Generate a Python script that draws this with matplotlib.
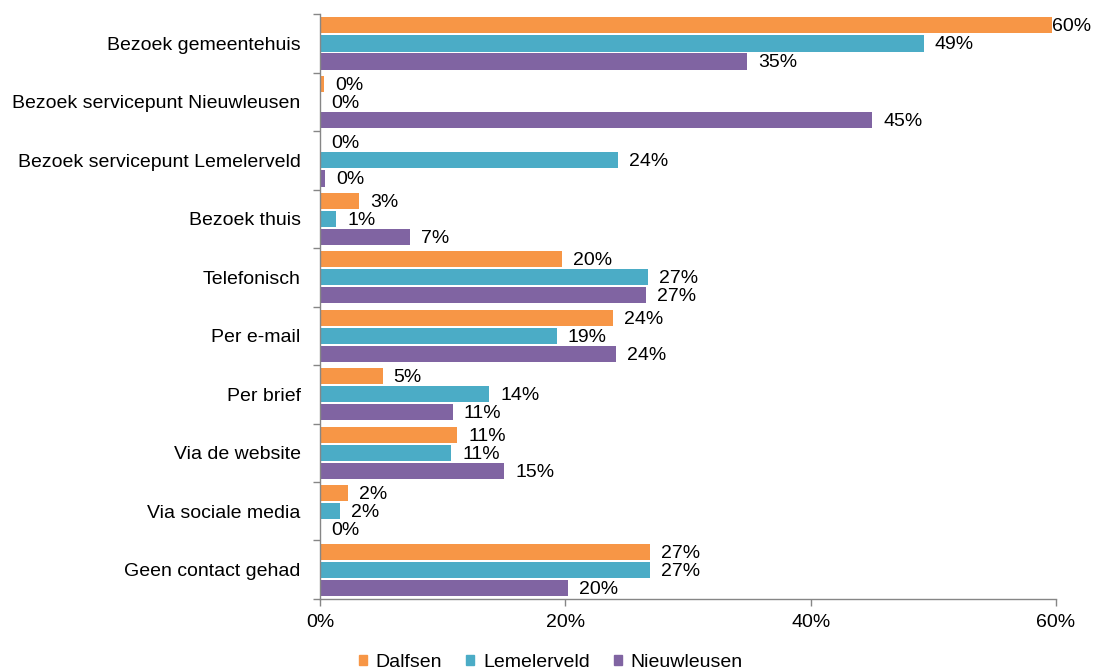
import numpy as np
import matplotlib.pyplot as plt
from matplotlib.patches import Patch

plt.rcParams['font.family'] = ['Liberation Sans', 'DejaVu Sans']

categories = ["Bezoek gemeentehuis", "Bezoek servicepunt Nieuwleusen",
              "Bezoek servicepunt Lemelerveld", "Bezoek thuis", "Telefonisch",
              "Per e-mail", "Per brief", "Via de website", "Via sociale media",
              "Geen contact gehad"]
series = ["Dalfsen", "Lemelerveld", "Nieuwleusen"]
dalfsen = [59.7, 0.3, 0.0, 3.2, 19.7, 23.9, 5.1, 11.2, 2.3, 26.9]
lemelerveld = [49.2, 0.0, 24.3, 1.3, 26.7, 19.3, 13.8, 10.7, 1.6, 26.9]
nieuwleusen = [34.8, 45.0, 0.4, 7.3, 26.6, 24.1, 10.8, 15.0, 0.0, 20.2]
colors = ["#F79646", "#4BACC6", "#8064A2"]

fig = plt.figure(figsize=(10.93, 6.70), dpi=100)
ax = fig.add_axes([0.2928, 0.106, 0.6734, 0.873])

y = np.arange(len(categories))
step = 0.308
for i, (vals, col) in enumerate(zip([dalfsen, lemelerveld, nieuwleusen], colors)):
    pos = y + (i - 1) * step
    bars = ax.barh(pos, vals, height=0.28, color=col)
    for b, v in zip(bars, vals):
        pad = 0 if v > 58 else 8
        ax.annotate(f"{round(v):.0f}%", (v, b.get_y() + b.get_height() / 2),
                    xytext=(pad, -1), textcoords="offset points",
                    ha="left", va="center", fontsize=14, clip_on=False)

ax.set_xlim(0, 60)
ax.set_ylim(len(categories) - 0.5, -0.5)
ax.set_xticks([0, 20, 40, 60])
ax.set_xticklabels(["0%", "20%", "40%", "60%"], fontsize=14)
ax.set_yticks(y)
ax.set_yticklabels(categories, fontsize=14)
ax.set_yticks(np.arange(len(categories) + 1) - 0.5, minor=True)
ax.tick_params(axis="y", which="major", length=0, pad=14)
ax.tick_params(axis="y", which="minor", length=5, color="#868686", width=1)
ax.tick_params(axis="x", length=5, color="#868686", width=1, pad=6)

for s in ["top", "right"]:
    ax.spines[s].set_visible(False)
for s in ["left", "bottom"]:
    ax.spines[s].set_color("#868686")
    ax.spines[s].set_linewidth(1)

handles = [Patch(color=c, label=s) for s, c in zip(series, colors)]
fig.legend(handles=handles, loc="lower center", bbox_to_anchor=(0.504, -0.027),
           ncol=3, frameon=False, fontsize=14, handlelength=0.4, handleheight=0.4,
           handletextpad=0.45, columnspacing=1.25)

fig.savefig("out.png", dpi=100)
